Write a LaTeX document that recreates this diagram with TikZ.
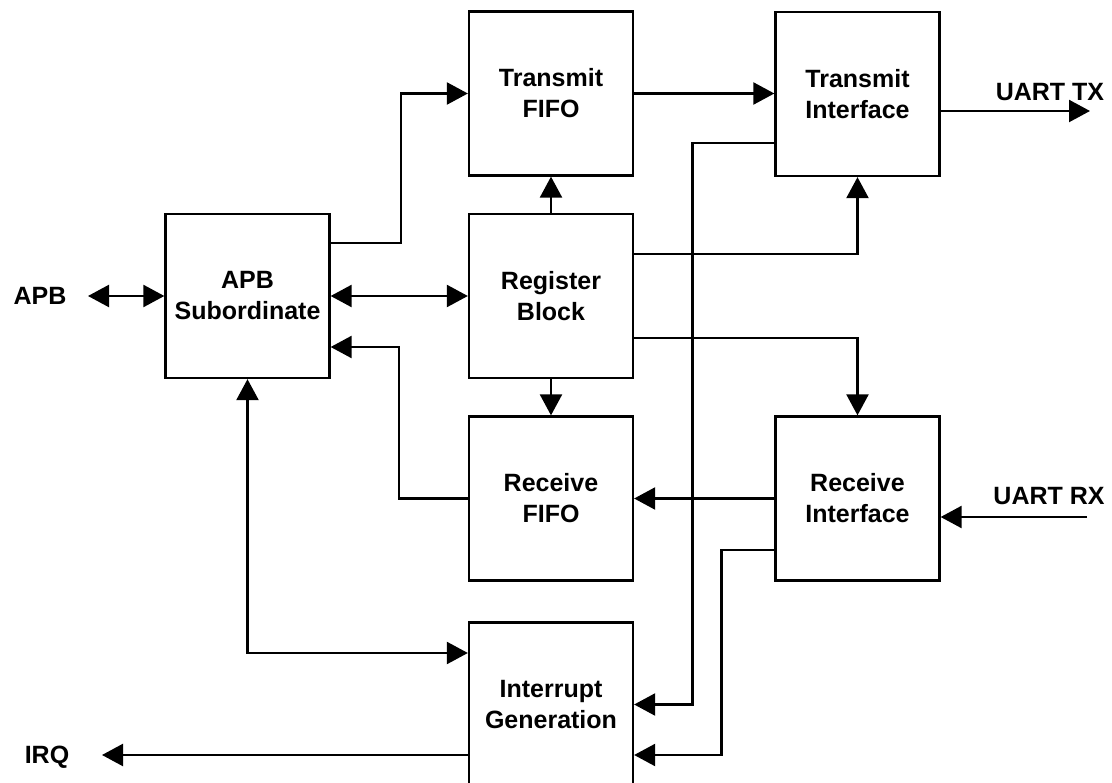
\documentclass[tikz,border=0pt]{standalone}
\usepackage{fontspec}
\setmainfont{Liberation Sans}
\usetikzlibrary{arrows.meta,calc}
\begin{document}
\begin{tikzpicture}[x=1pt,y=-1pt,
  blk/.style={draw,line width=2.3pt,minimum width=164pt,minimum height=164pt,inner sep=0pt,align=center,
    font=\fontsize{25}{31}\selectfont\bfseries},
  lbl/.style={font=\fontsize{25}{31}\selectfont\bfseries,inner sep=0pt},
  arr/.style={line width=2.3pt,-{Triangle[length=21pt,width=22pt]}},
  dbl/.style={line width=2.3pt,{Triangle[length=21pt,width=22pt]}-{Triangle[length=21pt,width=22pt]}}]
\useasboundingbox (0,0) rectangle (1112,783);
\clip (0,0) rectangle (1112,783);
\fill[white] (0,0) rectangle (1112,783);
% blocks
\node[blk] (apbs) at (247.5,296) {APB\\Subordinate};
\node[blk] (tf) at (551,93.5) {Transmit\\FIFO};
\node[blk] (ti) at (857.5,94) {Transmit\\Interface};
\node[blk] (rb) at (551,296) {Register\\Block};
\node[blk] (rf) at (551,498.5) {Receive\\FIFO};
\node[blk] (ri) at (857.5,498.5) {Receive\\Interface};
\node[blk] (ig) at (551,704.5) {Interrupt\\Generation};
% labels
\node[lbl] (apbl) at (40,296) {APB};
\node[lbl] (txl) at (1050,92) {UART TX};
\node[lbl] (rxl) at (1049,496) {UART RX};
\node[lbl] (irql) at (47,757) {IRQ};
% free ends
\coordinate (apbend) at (88,296);
\coordinate (txend) at (1090,111);
\coordinate (rxend) at (1087,517);
\coordinate (irqend) at (102,755);
% connectors
\draw[dbl] (apbend) -- (apbend -| apbs.west);
\draw[dbl] (apbs.east |- rb.west) -- (rb.west);
\draw[arr] ([yshift=53pt]apbs.east) -- ++(70,0) |- (tf.west);
\draw[arr] (rf.west) -- ++(-69,0) |- ([yshift=-51pt]apbs.east);
\draw[arr] (rb.north) -- (tf.south);
\draw[arr] (rb.south) -- (rf.north);
\draw[arr] (tf.east) -- (tf.east -| ti.west);
\draw[arr] (txend -| ti.east) -- (txend);
\draw[arr] ([yshift=42pt]rb.east) -| (ti.south);
\draw[arr] ([yshift=-42pt]rb.east) -| (ri.north);
\draw[arr] (ri.west) -- (rf.east);
\draw[arr] (rxend) -- (rxend -| ri.east);
\draw[arr] ([yshift=-49pt]ti.west) -- ++(-82,0) |- (ig.east);
\draw[arr] ([yshift=-51.5pt]ri.west) -- ++(-53,0) |- ([yshift=-50.5pt]ig.east);
\draw[dbl] (apbs.south) |- ([yshift=51.5pt]ig.west);
\draw[arr] (irqend -| ig.west) -- (irqend);
\end{tikzpicture}
\end{document}
